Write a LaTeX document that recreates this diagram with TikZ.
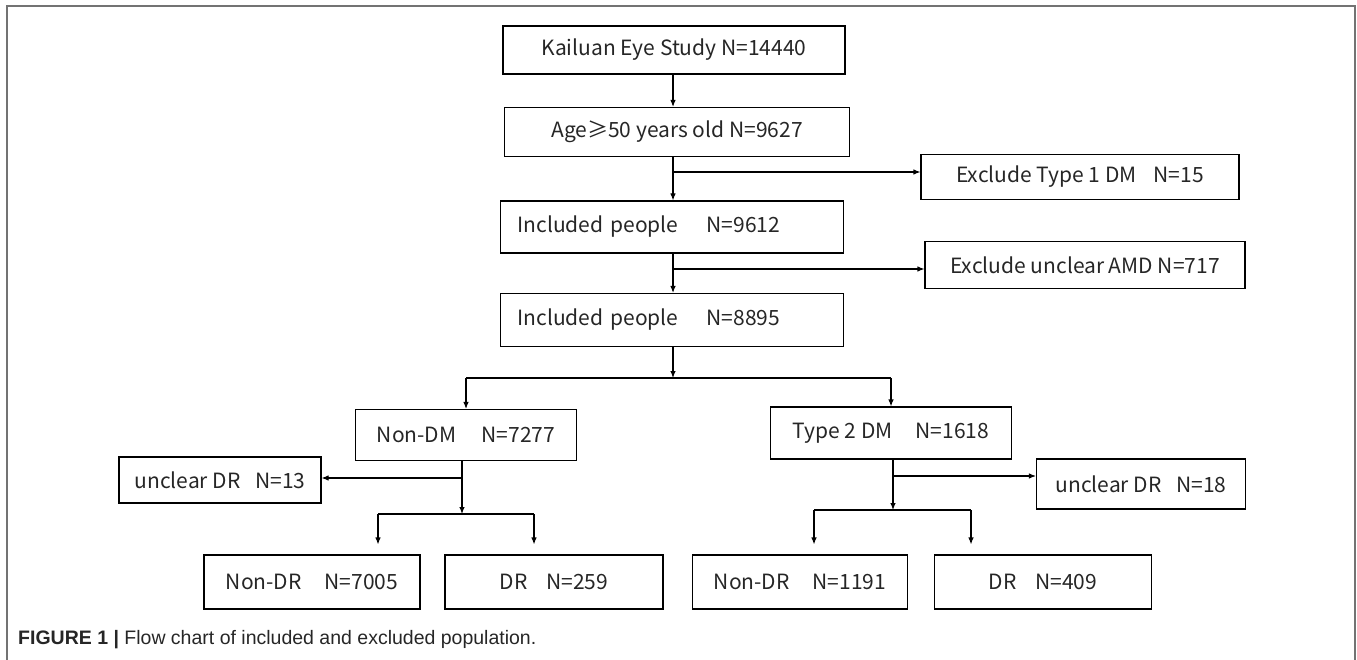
\documentclass[tikz,border=0pt]{standalone}
\usepackage{fontspec}
\setmainfont{Liberation Sans}
\newfontfamily\boxfont{Noto Sans CJK SC}
\usetikzlibrary{arrows.meta}
\usetikzlibrary{calc}

\tikzset{
  box/.style={draw, rectangle, line width=1.1pt, inner sep=0pt,
    font=\boxfont\fontsize{21}{24}\selectfont, text=black!85},
  leftbox/.style={box, text width=309pt, align=left},
  arr/.style={-{Latex[length=7pt,width=5.5pt]}, line width=1.1pt},
  link/.style={line width=1.1pt},
  framegray/.style={draw=black!55, line width=1.8pt},
}

\begin{document}
\begin{tikzpicture}[x=1pt,y=-1pt]

  \useasboundingbox (0,0) rectangle (1357,660);

  % outer frame (open at the bottom)
  \draw[framegray] (7,660) -- (7,6) -- (1355,6) -- (1355,660);

  % main column
  \node[box, minimum width=342, minimum height=48] (study) at (674,50)
    {Kailuan Eye Study N=14440};
  \node[box, minimum width=345, minimum height=49] (age) at (677,132)
    {Age≥50 years old N=9627};
  \node[box, minimum width=318, minimum height=45] (excl1) at (1080,177)
    {Exclude Type 1 DM\hspace{0.8em}N=15};
  \node[leftbox, minimum width=343, minimum height=52] (inc1) at (672,227)
    {Included people\hspace{28pt}N=9612};
  \node[box, minimum width=320, minimum height=47] (excl2) at (1085,265)
    {Exclude unclear AMD N=717};
  \node[leftbox, minimum width=343, minimum height=53] (inc2) at (672,320)
    {Included people\hspace{28pt}N=8895};

  % two groups
  \node[box, minimum width=221, minimum height=51] (nondm) at (466,435)
    {Non-DM\hspace{1.2em}N=7277};
  \node[box, minimum width=241, minimum height=52] (t2dm) at (891,433)
    {Type 2 DM\hspace{1.1em}N=1618};
  \node[box, minimum width=202, minimum height=46] (unc13) at (220,480)
    {unclear DR\hspace{0.7em}N=13};
  \node[box, minimum width=209, minimum height=50] (unc18) at (1141,484)
    {unclear DR\hspace{0.7em}N=18};

  % outcome boxes
  \node[box, minimum width=216, minimum height=54] (nondr1) at (312,582)
    {Non-DR\hspace{1.1em}N=7005};
  \node[box, minimum width=218, minimum height=54] (dr1) at (554,582)
    {DR\hspace{0.9em}N=259};
  \node[box, minimum width=215, minimum height=54] (nondr2) at (800,582)
    {Non-DR\hspace{1.1em}N=1191};
  \node[box, minimum width=217, minimum height=54] (dr2) at (1043,582)
    {DR\hspace{0.9em}N=409};

  % junction points
  \coordinate (spine) at (673,0);
  \coordinate (j1) at (673,172);
  \coordinate (j2) at (673,269);
  \coordinate (s1) at (673,378);
  \coordinate (s1L) at (466,378);
  \coordinate (s1R) at (891,378);
  \coordinate (j3) at (462,478);
  \coordinate (s2) at (462,514);
  \coordinate (s2L) at (378,514);
  \coordinate (s2R) at (534,514);
  \coordinate (j4) at (893,476);
  \coordinate (s3) at (893,510);
  \coordinate (s3L) at (814,510);
  \coordinate (s3R) at (971,510);

  % main column connectors
  \draw[arr] (study.south -| spine) -- (age.north -| spine);
  \draw[arr] (age.south -| spine) -- (inc1.north -| spine);
  \draw[arr] (j1) -- (j1 -| excl1.west);
  \draw[arr] (inc1.south -| spine) -- (inc2.north -| spine);
  \draw[arr] (j2) -- (j2 -| excl2.west);

  % split into groups
  \draw[arr] (inc2.south -| s1) -- (s1);
  \draw[link] (s1L) -- (s1R);
  \draw[arr] (s1L) -- (nondm.north);
  \draw[arr] (s1R) -- (t2dm.north);

  % Non-DM branch
  \draw[arr] (nondm.south -| s2) -- (s2);
  \draw[arr] (j3) -- (j3 -| unc13.east);
  \draw[link] (s2L) -- (s2R);
  \draw[arr, shorten >=10pt] (s2L) -- (s2L |- nondr1.north);
  \draw[arr, shorten >=10pt] (s2R) -- (s2R |- dr1.north);

  % Type 2 DM branch
  \draw[arr] (t2dm.south -| s3) -- (s3);
  \draw[arr] (j4) -- (j4 -| unc18.west);
  \draw[link] (s3L) -- (s3R);
  \draw[arr, shorten >=10pt] (s3L) -- (s3L |- nondr2.north);
  \draw[arr, shorten >=10pt] (s3R) -- (s3R |- dr2.north);

  % caption
  \node[anchor=west, inner sep=0pt, font=\fontsize{19.5}{21}\selectfont, text=black!85]
    (caption) at (18,640)
    {\textbf{FIGURE 1 |} Flow chart of included and excluded population.};

\end{tikzpicture}
\end{document}
